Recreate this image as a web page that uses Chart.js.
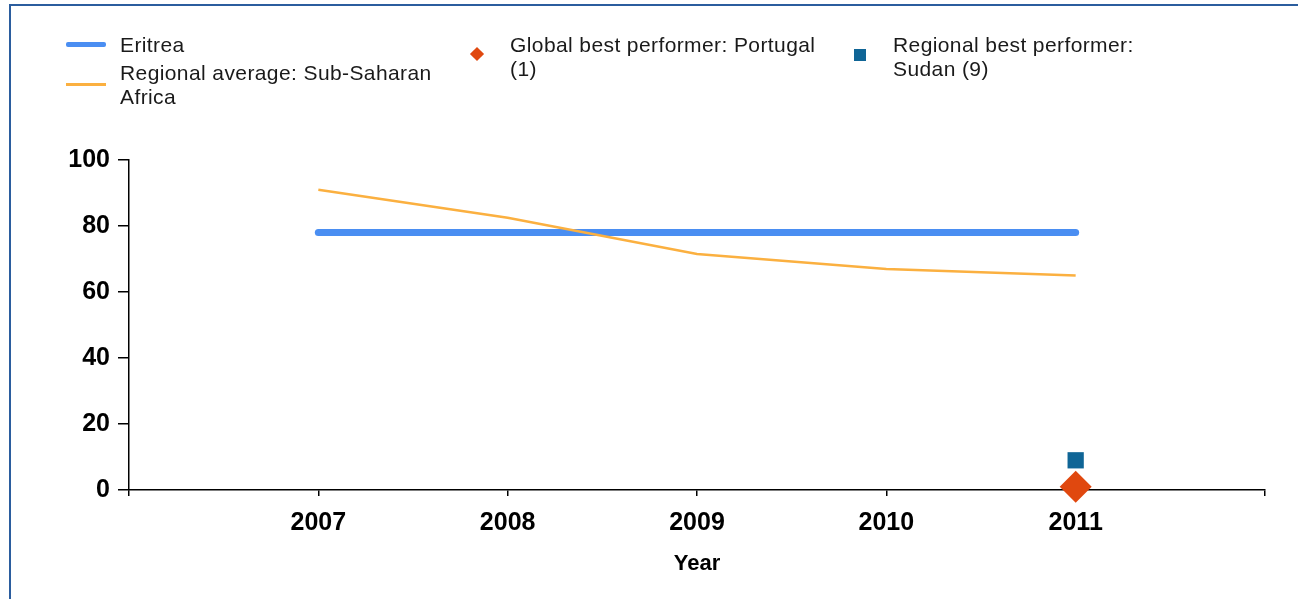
<!DOCTYPE html>
<html lang="en">
<head>
    <meta charset="UTF-8">
    <title>Eritrea vs regional average</title>
    <script src="https://cdn.jsdelivr.net/npm/chart.js"></script>
    <style>
        body { margin: 0; background: #fff; font-family: "Liberation Sans", Arial, sans-serif; }
        #wrap { position: relative; width: 1298px; height: 599px; overflow: hidden; }
        #frame { position: absolute; left: 9px; top: 4px; width: 1400px; height: 700px; border-top: 2px solid #2b5d9e; border-left: 2px solid #2b5d9e; }
        #chart { position: absolute; left: 0; top: 0; }
        .legend { position: absolute; font-size: 21px; line-height: 24px; letter-spacing: 0.4px; color: #1a1a1a; }
        .swatch { position: absolute; }
    </style>
</head>
<body>
<div id="wrap">
    <div id="frame"></div>
    <canvas id="chart" width="1298" height="599"></canvas>

    <div class="swatch" style="left:66px; top:42px; width:40px; height:5px; background:#4a8ef2; border-radius:2px;"></div>
    <div class="legend" style="left:120px; top:33px;">Eritrea</div>
    <div class="swatch" style="left:66px; top:83px; width:40px; height:3px; background:#fbb040;"></div>
    <div class="legend" style="left:120px; top:61px;">Regional average: Sub-Saharan<br>Africa</div>

    <div class="swatch" style="left:472px; top:49px; width:10px; height:10px; background:#e0480f; transform:rotate(45deg);"></div>
    <div class="legend" style="left:510px; top:33px;">Global best performer: Portugal<br>(1)</div>

    <div class="swatch" style="left:854px; top:49px; width:12px; height:12px; background:#0f6596;"></div>
    <div class="legend" style="left:893px; top:33px;">Regional best performer:<br>Sudan (9)</div>
</div>

<script>
    const years = [2007, 2008, 2009, 2010, 2011];
    const eritrea = [78, 78, 78, 78, 78];
    const regionalAverage = [91, 82.5, 71.5, 67, 65];
    const globalBestYear = 2011;
    const globalBest = 1;
    const regionalBestYear = 2011;
    const regionalBest = 9;

    const toPoints = (xs, ys) => xs.map((x, i) => ({ x: x, y: ys[i] }));

    const ctx = document.getElementById('chart').getContext('2d');
    new Chart(ctx, {
        type: 'line',
        data: {
            datasets: [
                {
                    label: 'Global best performer: Portugal (1)',
                    data: [{ x: globalBestYear, y: globalBest }],
                    showLine: false,
                    clip: false,
                    pointStyle: 'rectRot',
                    pointRadius: 16,
                    backgroundColor: '#e0480f',
                    borderWidth: 0,
                    order: 0
                },
                {
                    label: 'Regional best performer: Sudan (9)',
                    data: [{ x: regionalBestYear, y: regionalBest }],
                    showLine: false,
                    clip: false,
                    pointStyle: 'rect',
                    pointRadius: 11.5,
                    backgroundColor: '#0f6596',
                    borderWidth: 0,
                    order: 1
                },
                {
                    label: 'Regional average: Sub-Saharan Africa',
                    data: toPoints(years, regionalAverage),
                    borderColor: '#fbb040',
                    borderWidth: 2.5,
                    pointRadius: 0,
                    tension: 0,
                    order: 2
                },
                {
                    label: 'Eritrea',
                    data: toPoints(years, eritrea),
                    borderColor: '#4a8ef2',
                    borderWidth: 7,
                    borderCapStyle: 'round',
                    pointRadius: 0,
                    tension: 0,
                    order: 3
                }
            ]
        },
        options: {
            responsive: false,
            animation: false,
            layout: { padding: { top: 160, right: 33, left: 0, bottom: 0 } },
            plugins: { legend: { display: false }, tooltip: { enabled: false } },
            scales: {
                x: {
                    type: 'linear',
                    min: 2006,
                    max: 2012,
                    afterFit: s => { s.height = 109; },
                    ticks: {
                        stepSize: 1,
                        padding: 12,
                        color: '#000',
                        font: { family: 'Liberation Sans', size: 25, weight: 'bold' },
                        callback: v => (v === 2006 || v === 2012) ? '' : String(v),
                        maxRotation: 0
                    },
                    grid: { drawOnChartArea: false, tickLength: 6, color: '#000', lineWidth: 1.5 },
                    border: { color: '#000', width: 1.5 },
                    title: {
                        display: true,
                        text: 'Year',
                        color: '#000',
                        font: { family: 'Liberation Sans', size: 22, weight: 'bold' },
                        padding: { top: 8, bottom: 22 }
                    }
                },
                y: {
                    min: 0,
                    max: 100,
                    afterFit: s => { s.width = 129; },
                    ticks: {
                        stepSize: 20,
                        padding: 8,
                        color: '#000',
                        font: { family: 'Liberation Sans', size: 25, weight: 'bold' }
                    },
                    grid: { drawOnChartArea: false, tickLength: 11, color: '#000', lineWidth: 1.5 },
                    border: { color: '#000', width: 1.5 }
                }
            }
        }
    });
</script>
</body>
</html>
